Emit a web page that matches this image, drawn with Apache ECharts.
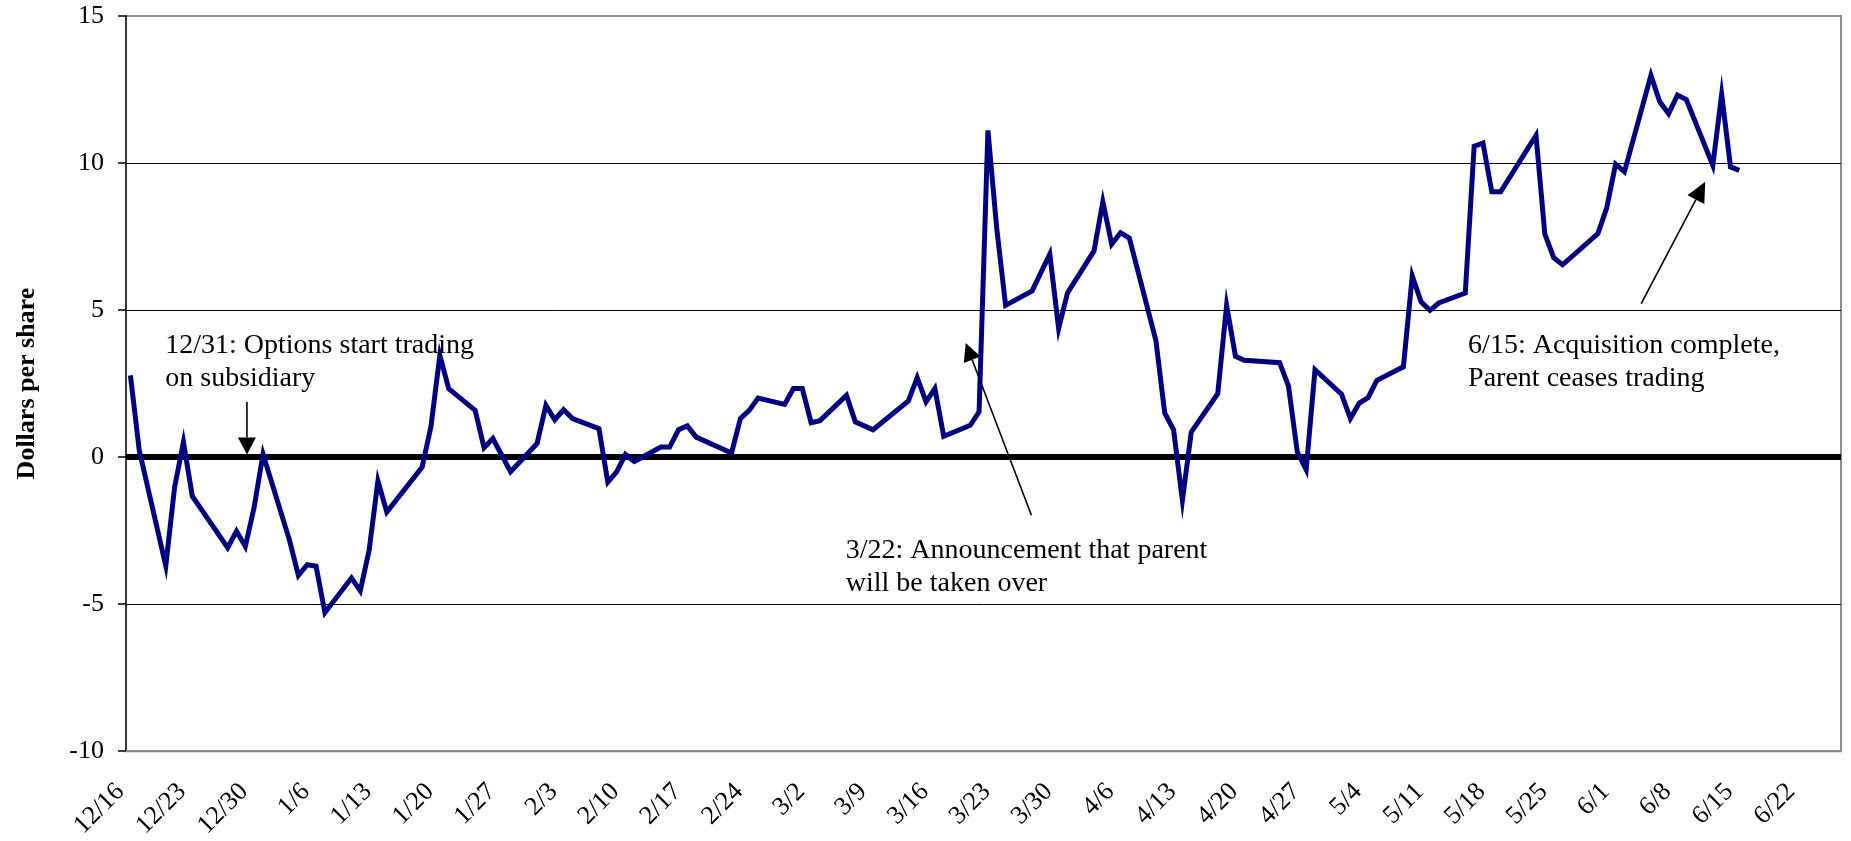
<!DOCTYPE html>
<html>
<head>
<meta charset="utf-8">
<script src="https://cdn.jsdelivr.net/npm/echarts@6/dist/echarts.min.js"></script>
<style>
  html, body { margin: 0; padding: 0; background: #fff; }
  #chart { width: 1851px; height: 841px; }
</style>
</head>
<body>
<div id="chart"></div>
<script>
// Trading dates (Dec 1999 – Jun 2000) and the price gap in dollars per share
const tradeDates = [
  '12/16','12/17','12/20','12/21','12/22','12/23','12/27','12/28','12/29','12/30','12/31',
  '1/3','1/4','1/5','1/6','1/7','1/10','1/11','1/12','1/13','1/14','1/18','1/19','1/20','1/21',
  '1/24','1/25','1/26','1/28','1/31','2/1','2/2','2/3','2/4','2/7','2/8','2/9','2/10','2/11',
  '2/14','2/15','2/16','2/17','2/18','2/22','2/23','2/24','2/25','2/28','2/29','3/1','3/2','3/3',
  '3/6','3/7','3/9','3/13','3/14','3/15','3/16','3/17','3/20','3/21','3/22','3/23','3/24',
  '3/27','3/29','3/30','3/31','4/3','4/4','4/5','4/6','4/7','4/10','4/11','4/12','4/13','4/14',
  '4/17','4/18','4/19','4/20','4/24','4/25','4/26','4/27','4/28','5/1','5/2','5/3','5/4','5/5',
  '5/8','5/9','5/10','5/11','5/12','5/15','5/16','5/17','5/18','5/19','5/23','5/24','5/25','5/26',
  '5/30','5/31','6/1','6/2','6/5','6/6','6/7','6/8','6/9','6/12','6/13','6/14','6/15'
];
const priceGap = [
  2.78, 0.23, -3.70, -1.02, 0.51, -1.33, -3.08, -2.52, -3.04, -1.70, 0.10,
  -2.83, -4.02, -3.66, -3.71, -5.29, -4.11, -4.55, -3.17, -0.81, -1.87, -0.34, 1.05, 3.46, 2.33,
  1.59, 0.32, 0.63, -0.50, 0.46, 1.76, 1.27, 1.61, 1.31, 0.97, -0.85, -0.50, 0.09, -0.15,
  0.34, 0.34, 0.93, 1.06, 0.68, 0.14, 1.31, 1.59, 2.01, 1.79, 2.33, 2.33, 1.17, 1.24,
  2.10, 1.20, 0.93, 1.91, 2.70, 1.88, 2.33, 0.71, 1.08, 1.54, 11.11, 7.77, 5.16,
  5.65, 6.90, 4.37, 5.58, 7.01, 8.68, 7.24, 7.63, 7.45, 3.97, 1.50, 0.93, -1.47, 0.85,
  2.16, 5.16, 3.43, 3.29, 3.21, 2.41, 0.17, -0.43, 2.97, 2.14, 1.31, 1.84, 2.02, 2.61,
  3.07, 6.16, 5.28, 4.99, 5.24, 5.58, 10.57, 10.68, 9.02, 9.02, 10.94, 7.58, 6.78, 6.54,
  7.60, 8.48, 9.96, 9.70, 12.98, 12.08, 11.68, 12.31, 12.16, 9.92, 12.33, 9.87, 9.75
];
// Weekly date labels along the bottom axis
const weekLabels = [
  '12/16','12/23','12/30','1/6','1/13','1/20','1/27','2/3','2/10','2/17','2/24','3/2','3/9','3/16',
  '3/23','3/30','4/6','4/13','4/20','4/27','5/4','5/11','5/18','5/25','6/1','6/8','6/15','6/22'
];
const yTicks = [-10, -5, 0, 5, 10, 15];

// Callouts, anchored in axis units (days from 12/16, dollars)
const callouts = [
  { lines: ['12/31: Options start trading', 'on subsidiary'], at: [4.44, 4.36],
    arrow: { from: [13.68, 1.87], to: [13.68, 0.09], len: 17, half: 9 } },
  { lines: ['3/22: Announcement that parent', 'will be taken over'], at: [81.42, -2.62],
    arrow: { from: [102.42, -1.98], to: [94.99, 3.88], len: 18, half: 9 } },
  { lines: ['6/15: Acquisition complete,', 'Parent ceases trading'], at: [151.82, 4.36],
    arrow: { from: [171.4, 5.22], to: [178.64, 9.36], len: 20, half: 9.5 } }
];

const SERIF = '"Liberation Serif", "Times New Roman", serif';
const DAY_MS = 86400000;
function dayIndex(md) {
  const [m, d] = md.split('/').map(Number);
  const y = m === 12 ? 1999 : 2000;
  return Math.round((Date.UTC(y, m - 1, d) - Date.UTC(1999, 11, 16)) / DAY_MS);
}
// each trading day sits in the middle of its one-day slot
const points = tradeDates.map((d, i) => [dayIndex(d) + 0.5, priceGap[i]]);

const chart = echarts.init(document.getElementById('chart'), null, { renderer: 'canvas' });

chart.setOption({
  animation: false,
  backgroundColor: '#fff',
  grid: {
    left: 126, right: 10, top: 16, bottom: 89,
    show: true, borderColor: '#8c8c8c', borderWidth: 2, backgroundColor: 'transparent'
  },
  xAxis: {
    type: 'value',
    min: 0, max: 194, interval: 7,
    axisLine: { show: true, onZero: false, lineStyle: { color: '#8c8c8c', width: 2 } },
    axisTick: { show: false },
    splitLine: { show: false },
    axisLabel: {
      rotate: 45,
      margin: 31,
      padding: [0, 8, 0, 0],
      fontFamily: SERIF, fontSize: 26, color: '#000',
      showMaxLabel: false,
      formatter: v => (v % 7 === 0 && weekLabels[v / 7]) ? weekLabels[v / 7] : ''
    }
  },
  yAxis: {
    type: 'value',
    min: yTicks[0], max: yTicks[yTicks.length - 1], interval: 5,
    name: 'Dollars per share',
    nameLocation: 'middle', nameRotate: 90, nameGap: 86,
    nameTextStyle: { fontFamily: SERIF, fontSize: 26, fontWeight: 'bold', color: '#000' },
    axisLine: { show: true, lineStyle: { color: '#3a3a3a', width: 2 } },
    axisTick: { show: true, inside: false, length: 8, lineStyle: { color: '#000', width: 1.5 } },
    axisLabel: { margin: 22, fontFamily: SERIF, fontSize: 26, color: '#000' },
    splitLine: { show: true, showMinLine: false, showMaxLine: false,
                 lineStyle: { color: '#000', width: 1 } }
  },
  series: [
    {
      // heavy zero reference line under the data
      type: 'line', data: [], z: 1, silent: true,
      markLine: {
        silent: true, symbol: 'none', label: { show: false },
        lineStyle: { color: '#000', width: 6, type: 'solid' },
        data: [{ yAxis: 0 }]
      }
    },
    {
      type: 'line', data: points, z: 5,
      showSymbol: false, symbol: 'none',
      lineStyle: { color: '#000080', width: 5, join: 'miter' },
      itemStyle: { color: '#000080' }
    }
  ]
});

// Callout text and arrows placed through the chart's coordinate system
const px = p => chart.convertToPixel({ gridIndex: 0 }, p);
const graphics = [];
callouts.forEach(c => {
  const [tx, ty] = px(c.at);
  graphics.push({
    type: 'text', x: tx, y: ty, z: 20, silent: true,
    style: {
      text: c.lines.join('\n'), fill: '#000',
      font: '28px ' + SERIF, lineHeight: 33,
      align: 'left', verticalAlign: 'top'
    }
  });
  const a = c.arrow;
  const P = px(a.from), T = px(a.to);
  const dx = T[0] - P[0], dy = T[1] - P[1];
  const L = Math.hypot(dx, dy);
  const ux = dx / L, uy = dy / L;
  const bx = T[0] - ux * a.len, by = T[1] - uy * a.len;
  const nx = -uy, ny = ux;
  graphics.push({
    type: 'line', z: 20, silent: true,
    shape: { x1: P[0], y1: P[1], x2: bx, y2: by },
    style: { stroke: '#000', lineWidth: 1.6 }
  });
  graphics.push({
    type: 'polygon', z: 20, silent: true,
    shape: { points: [[T[0], T[1]], [bx + nx * a.half, by + ny * a.half], [bx - nx * a.half, by - ny * a.half]] },
    style: { fill: '#000' }
  });
});
chart.setOption({ graphic: graphics });
</script>
</body>
</html>
